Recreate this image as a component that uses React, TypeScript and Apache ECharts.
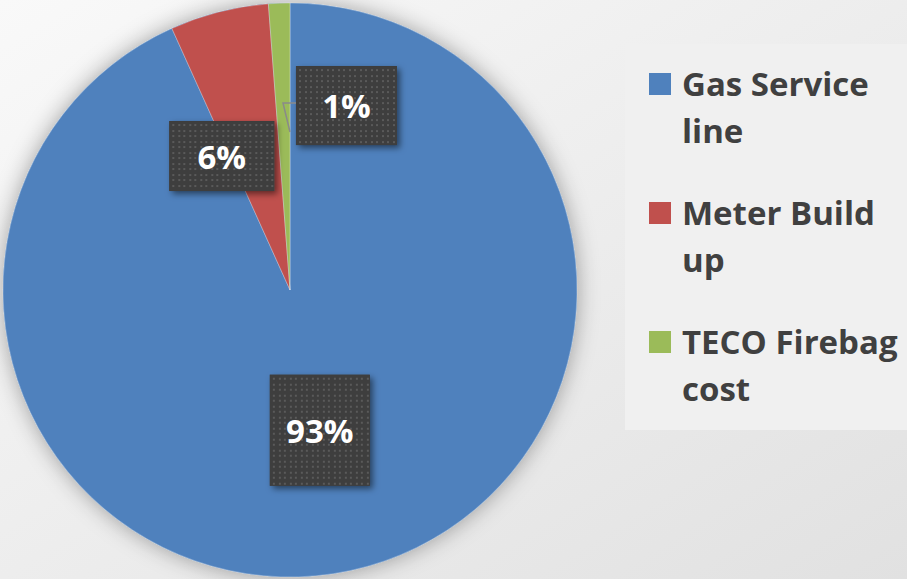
import React, { useEffect, useRef } from 'react';
import * as echarts from 'echarts';

const categories = ['Gas Service line', 'Meter Build up', 'TECO Firebag cost'];
const values = [93.25, 5.55, 1.2];
const colors = ['#4f81bd', '#c0504d', '#9bbb59'];
// label box sizes and offsets from default "inside" position
const labelBoxes = [
  { w: 100, h: 111, offset: [-1, -3] },
  { w: 105, h: 70, offset: [-32, 8] },
  { w: 101, h: 79, offset: [62, -38] },
];

function makeDotBox(w: number, h: number): string {
  const c = document.createElement('canvas');
  c.width = w;
  c.height = h;
  const ctx = c.getContext('2d')!;
  ctx.fillStyle = '#3e3e3e';
  ctx.fillRect(0, 0, w, h);
  ctx.fillStyle = '#5a5a5a';
  for (let y = 3; y < h - 1; y += 5.5) {
    for (let x = 3; x < w - 1; x += 5.5) {
      ctx.fillRect(Math.round(x), Math.round(y), 2, 2);
    }
  }
  return c.toDataURL();
}

export default function App() {
  const ref = useRef<HTMLDivElement>(null);
  useEffect(() => {
    if (!ref.current) return;
    const chart = echarts.init(ref.current, undefined, { renderer: 'svg' });
    const data = categories.map((name, i) => {
      const b = labelBoxes[i];
      return {
        name,
        value: values[i],
        itemStyle: { color: colors[i] },
        label: {
          offset: b.offset,
          rich: {
            b: {
              width: b.w,
              height: b.h,
              lineHeight: b.h,
              align: 'center',
              color: '#ffffff',
              fontFamily: 'Open Sans',
              fontWeight: 'bold',
              fontSize: 33,
              backgroundColor: { image: makeDotBox(b.w, b.h) },
            },
          },
        },
      };
    });
    chart.setOption({
      animation: false,
      backgroundColor: new echarts.graphic.LinearGradient(0, 0, 1, 1, [
        { offset: 0, color: '#f9f9f9' },
        { offset: 1, color: '#e1e1e1' },
      ]),
      legend: {
        orient: 'vertical',
        left: 625,
        top: 44,
        padding: [16, 80, 18, 24],
        backgroundColor: '#f0f0f0',
        itemWidth: 28,
        itemHeight: 94,
        itemGap: 35,
        icon: 'path://M0,0L28,0M0,13L22,13L22,35L0,35ZM0,94L0,94',
        itemStyle: { borderWidth: 0 },
        selectedMode: false,
        data: categories,
        formatter: (name: string) => name.replace(/ (\S+)$/, '\n$1'),
        textStyle: {
          fontFamily: 'Open Sans',
          fontWeight: 'bold',
          fontSize: 33,
          lineHeight: 47,
          color: '#404040',
        },
      },
      graphic: [
        {
          type: 'polyline',
          z: 100,
          silent: true,
          shape: { points: [[296, 103], [283, 103], [290, 132]] },
          style: { stroke: '#8a8a8a', lineWidth: 1.5, fill: null },
        },
      ],
      series: [
        {
          type: 'pie',
          silent: true,
          z: 1,
          center: [290, 290],
          radius: 287,
          data: [{ value: 1, name: '__shadow', itemStyle: { color: '#4f81bd' } }],
          label: { show: false },
          labelLine: { show: false },
          itemStyle: { shadowBlur: 22, shadowColor: 'rgba(0,0,0,0.35)', borderWidth: 0 },
        },
        {
          type: 'pie',
          z: 2,
          center: [290, 290],
          radius: 287,
          startAngle: 90,
          clockwise: true,
          silent: true,
          itemStyle: { borderWidth: 0.6, borderColor: 'rgba(255,255,255,0.5)' },
          label: {
            show: true,
            position: 'inside',
            formatter: (p: any) => '{b|' + Math.round(p.percent) + '%}',
            align: 'center',
            verticalAlign: 'middle',
            padding: 0,
            backgroundColor: '#3e3e3e',
            shadowBlur: 6,
            shadowOffsetX: 3,
            shadowOffsetY: 3,
            shadowColor: 'rgba(0,0,0,0.5)',
          },
          labelLine: { show: false },
          data,
        },
      ],
    });
    return () => chart.dispose();
  }, []);
  return (
    <div
      ref={ref}
      style={{ position: 'absolute', left: 0, top: 0, width: 907, height: 579 }}
    />
  );
}
